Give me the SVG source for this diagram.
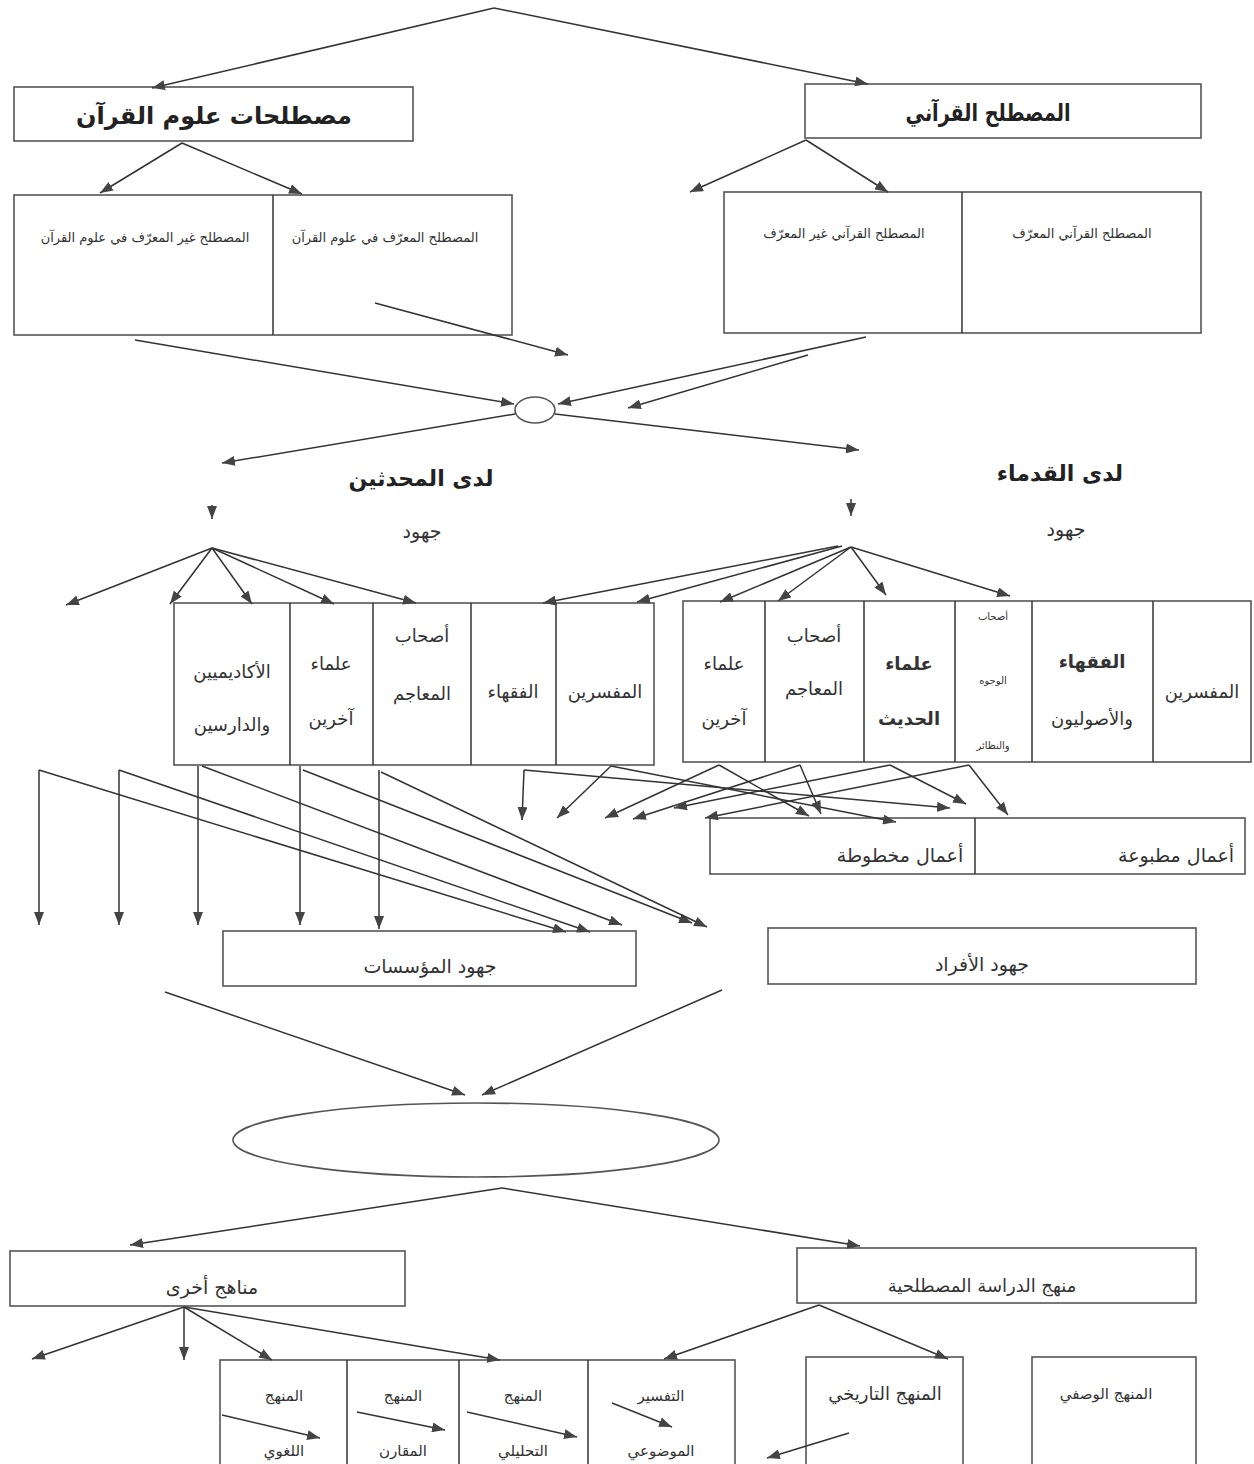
<svg xmlns="http://www.w3.org/2000/svg" width="1254" height="1464" viewBox="0 0 1254 1464">
<style>
.bx{fill:#fff;stroke:#555;stroke-width:1.6}
.ln{fill:none;stroke:#333;stroke-width:1.5}
.ar{fill:none;stroke:#333;stroke-width:1.5;marker-end:url(#ah)}
.t{font-family:'DejaVu Sans','Noto Sans',sans-serif;fill:#333;text-anchor:middle}
.big{font-size:24px;font-weight:bold;fill:#222}
.hd{font-size:22px;font-weight:bold;fill:#222}
.lg{font-size:19px}
.mid{font-size:18px}
.cl{font-size:15px}
.sm{font-size:13px}
.xs{font-size:10px}
</style>
<defs>
<marker id="ah" markerUnits="userSpaceOnUse" markerWidth="14" markerHeight="10" refX="13" refY="5" orient="auto">
<path d="M0,0 L13,5 L0,10 z" fill="#444"/>
</marker>
</defs>
<rect width="1254" height="1464" fill="#fff"/>

<g id="n-quran-sciences-terms">
<rect class="bx" x="14" y="87" width="399" height="54"/>
<text class="t big" x="214" y="124">مصطلحات علوم القرآن</text>
</g>
<g id="n-quranic-term">
<rect class="bx" x="805" y="84" width="396" height="54"/>
<text class="t big" x="988" y="121" textLength="165" lengthAdjust="spacingAndGlyphs">المصطلح القرآني</text>
</g>
<g id="n-sciences-split">
<rect class="bx" x="14" y="195" width="498" height="140"/>
<line class="ln" x1="273" y1="195" x2="273" y2="335"/>
<text class="t sm" x="145" y="242">المصطلح غير المعرّف في علوم القرآن</text>
<text class="t sm" x="385" y="242">المصطلح المعرّف في علوم القرآن</text>
</g>
<g id="n-quranic-split">
<rect class="bx" x="724" y="192" width="477" height="141"/>
<line class="ln" x1="962" y1="192" x2="962" y2="333"/>
<text class="t sm" x="844" y="238">المصطلح القرآني غير المعرّف</text>
<text class="t sm" x="1082" y="238">المصطلح القرآني المعرّف</text>
</g>
<g id="n-hub1">
<ellipse class="bx" cx="535" cy="410" rx="20" ry="13"/>
</g>
<g id="n-moderns">
<text class="t hd" x="421" y="486">لدى المحدثين</text>
<text class="t lg" x="422" y="538">جهود</text>
</g>
<g id="n-ancients">
<text class="t hd" x="1060" y="481">لدى القدماء</text>
<text class="t lg" x="1066" y="536">جهود</text>
</g>
<g id="n-moderns-table">
<rect class="bx" x="174" y="603" width="480" height="162"/>
<line class="ln" x1="290" y1="603" x2="290" y2="765"/>
<line class="ln" x1="373" y1="603" x2="373" y2="765"/>
<line class="ln" x1="471" y1="603" x2="471" y2="765"/>
<line class="ln" x1="556" y1="603" x2="556" y2="765"/>
<text class="t mid" x="232" y="678">الأكاديميين</text>
<text class="t mid" x="232" y="731">والدارسين</text>
<text class="t mid" x="331" y="670">علماء</text>
<text class="t mid" x="331" y="725">آخرين</text>
<text class="t mid" x="422" y="642">أصحاب</text>
<text class="t mid" x="422" y="700">المعاجم</text>
<text class="t mid" x="513" y="698">الفقهاء</text>
<text class="t mid" x="605" y="698">المفسرين</text>
</g>
<g id="n-ancients-table">
<rect class="bx" x="683" y="601" width="568" height="161"/>
<line class="ln" x1="765" y1="601" x2="765" y2="762"/>
<line class="ln" x1="864" y1="601" x2="864" y2="762"/>
<line class="ln" x1="955" y1="601" x2="955" y2="762"/>
<line class="ln" x1="1032" y1="601" x2="1032" y2="762"/>
<line class="ln" x1="1153" y1="601" x2="1153" y2="762"/>
<text class="t mid" x="724" y="670">علماء</text>
<text class="t mid" x="724" y="725">آخرين</text>
<text class="t mid" x="814" y="642">أصحاب</text>
<text class="t mid" x="814" y="695">المعاجم</text>
<text class="t mid" x="909" y="670" font-weight="bold">علماء</text>
<text class="t mid" x="909" y="725" font-weight="bold">الحديث</text>
<text class="t xs" x="993" y="620">أصحاب</text>
<text class="t xs" x="993" y="684">الوجوه</text>
<text class="t xs" x="993" y="749">والنظائر</text>
<text class="t mid" x="1092" y="668" font-weight="bold">الفقهاء</text>
<text class="t mid" x="1092" y="725">والأصوليون</text>
<text class="t mid" x="1202" y="698">المفسرين</text>
</g>
<g id="n-works">
<rect class="bx" x="710" y="818" width="535" height="56"/>
<line class="ln" x1="975" y1="818" x2="975" y2="874"/>
<text class="t lg" x="900" y="862">أعمال مخطوطة</text>
<text class="t lg" x="1176" y="862">أعمال مطبوعة</text>
</g>
<g id="n-institutions">
<rect class="bx" x="223" y="931" width="413" height="55"/>
<text class="t lg" x="430" y="973">جهود المؤسسات</text>
</g>
<g id="n-individuals">
<rect class="bx" x="768" y="928" width="428" height="56"/>
<text class="t lg" x="982" y="971">جهود الأفراد</text>
</g>
<g id="n-hub2">
<ellipse class="bx" cx="476" cy="1140" rx="243" ry="37"/>
</g>
<g id="n-other-methods">
<rect class="bx" x="10" y="1251" width="395" height="55"/>
<text class="t lg" x="212" y="1294">مناهج أخرى</text>
</g>
<g id="n-term-method">
<rect class="bx" x="797" y="1248" width="399" height="55"/>
<text class="t mid" x="982" y="1292">منهج الدراسة المصطلحية</text>
</g>
<g id="n-methods-table">
<rect class="bx" x="220" y="1360" width="515" height="120"/>
<line class="ln" x1="347" y1="1360" x2="347" y2="1464"/>
<line class="ln" x1="459" y1="1360" x2="459" y2="1464"/>
<line class="ln" x1="588" y1="1360" x2="588" y2="1464"/>
<text class="t cl" x="284" y="1401">المنهج</text>
<text class="t cl" x="284" y="1456">اللغوي</text>
<text class="t cl" x="403" y="1401">المنهج</text>
<text class="t cl" x="403" y="1456">المقارن</text>
<text class="t cl" x="523" y="1401">المنهج</text>
<text class="t cl" x="523" y="1456">التحليلي</text>
<text class="t cl" x="661" y="1401">التفسير</text>
<text class="t cl" x="661" y="1456">الموضوعي</text>
</g>
<g id="n-historical">
<rect class="bx" x="806" y="1357" width="157" height="120"/>
<text class="t mid" x="885" y="1400">المنهج التاريخي</text>
</g>
<g id="n-descriptive">
<rect class="bx" x="1032" y="1357" width="164" height="120"/>
<text class="t cl" x="1106" y="1399">المنهج الوصفي</text>
</g>

<g id="connectors">
<path class="ar" d="M494,8 L152,88"/>
<path class="ar" d="M494,8 L868,84"/>
<path class="ar" d="M182,143 L100,193"/>
<path class="ar" d="M182,143 L302,194"/>
<path class="ar" d="M806,140 L690,192"/>
<path class="ar" d="M806,140 L888,192"/>
<path class="ar" d="M375,303 L568,355"/>
<path class="ar" d="M135,340 L514,404"/>
<path class="ar" d="M866,337 L558,404"/>
<path class="ar" d="M808,355 L628,408"/>
<path class="ar" d="M515,414 L222,463"/>
<path class="ar" d="M555,414 L859,450"/>
<path class="ar" d="M212,505 L212,519"/>
<path class="ar" d="M851,499 L851,516"/>
<path class="ar" d="M212,548 L66,605"/>
<path class="ar" d="M212,548 L170,604"/>
<path class="ar" d="M212,548 L252,604"/>
<path class="ar" d="M212,548 L334,604"/>
<path class="ar" d="M212,548 L416,603"/>
<path class="ar" d="M838,546 L543,603"/>
<path class="ar" d="M842,546 L637,602"/>
<path class="ar" d="M851,547 L720,602"/>
<path class="ar" d="M851,547 L778,601"/>
<path class="ar" d="M851,547 L886,595"/>
<path class="ar" d="M851,547 L1010,596"/>
<path class="ar" d="M39,770 L39,925"/>
<path class="ar" d="M119,770 L119,925"/>
<path class="ar" d="M198,766 L198,925"/>
<path class="ar" d="M300,766 L300,925"/>
<path class="ar" d="M379,770 L379,929"/>
<path class="ar" d="M39,770 L566,932"/>
<path class="ar" d="M119,770 L590,932"/>
<path class="ar" d="M202,766 L622,925"/>
<path class="ar" d="M303,770 L692,923"/>
<path class="ar" d="M381,772 L707,927"/>
<path class="ar" d="M524,770 L522,820"/>
<path class="ar" d="M524,770 L950,808"/>
<path class="ar" d="M611,766 L557,818"/>
<path class="ar" d="M611,766 L896,822"/>
<path class="ar" d="M719,765 L605,818"/>
<path class="ar" d="M719,765 L809,816"/>
<path class="ar" d="M800,765 L633,819"/>
<path class="ar" d="M800,765 L821,814"/>
<path class="ar" d="M890,765 L674,808"/>
<path class="ar" d="M890,765 L966,804"/>
<path class="ar" d="M969,765 L705,818"/>
<path class="ar" d="M969,765 L1008,815"/>
<path class="ar" d="M165,992 L465,1095"/>
<path class="ar" d="M722,990 L482,1095"/>
<path class="ar" d="M502,1188 L130,1245"/>
<path class="ar" d="M502,1188 L860,1246"/>
<path class="ar" d="M184,1307 L32,1359"/>
<path class="ar" d="M184,1307 L184,1360"/>
<path class="ar" d="M184,1307 L272,1360"/>
<path class="ar" d="M184,1307 L500,1360"/>
<path class="ar" d="M819,1305 L664,1359"/>
<path class="ar" d="M819,1305 L948,1359"/>
<path class="ar" d="M222,1415 L320,1438"/>
<path class="ar" d="M357,1412 L445,1430"/>
<path class="ar" d="M467,1412 L577,1437"/>
<path class="ar" d="M612,1403 L672,1427"/>
<path class="ar" d="M849,1433 L767,1458"/>
</g>
</svg>
